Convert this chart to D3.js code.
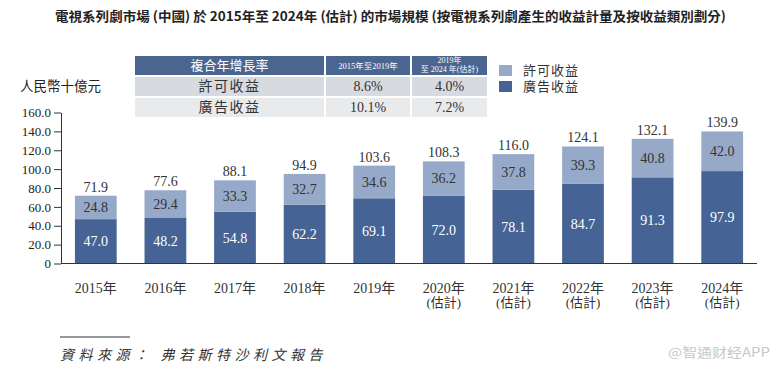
<!DOCTYPE html>
<html><head><meta charset="utf-8">
<script src="https://cdn.jsdelivr.net/npm/d3@7"></script>
<style>
body{margin:0;background:#fff;}
svg{display:block;}
</style></head>
<body><svg id="c" width="780" height="370"></svg>
<script>
const years = ["2015年","2016年","2017年","2018年","2019年","2020年","2021年","2022年","2023年","2024年"];
const estimated = [false,false,false,false,false,true,true,true,true,true];
const adRevenue = [47.0,48.2,54.8,62.2,69.1,72.0,78.1,84.7,91.3,97.9];
const licRevenue = [24.8,29.4,33.3,32.7,34.6,36.2,37.8,39.3,40.8,42.0];
const totals = [71.9,77.6,88.1,94.9,103.6,108.3,116.0,124.1,132.1,139.9];
const yTicks = [0,20,40,60,80,100,120,140,160];
const cagrHeader = ["複合年增長率","2015年至2019年","2019年|至 2024 年(估計)"];
const cagrRows = [["許可收益","8.6%","4.0%"],["廣告收益","10.1%","7.2%"]];
const legendLabels = ["許可收益","廣告收益"];
const titleText = "電視系列劇市場 (中國) 於 2015年至 2024年 (估計) 的市場規模 (按電視系列劇產生的收益計量及按收益類別劃分)";

const LIGHT="#97a9c9", DARK="#456394", HEAD="#4a6590";
const SERIF="'Liberation Serif','Noto Sans CJK TC',serif";
const SANS="'Noto Sans CJK TC','Noto Sans',sans-serif";
const svg=d3.select("#c");

// title
svg.append("text").attr("x",55).attr("y",21).attr("font-family",SANS).attr("font-weight","bold")
  .attr("font-size",13).attr("fill","#222").attr("textLength",671).attr("lengthAdjust","spacingAndGlyphs").text(titleText);

const x=d3.scaleBand().domain(years).range([61,757]).paddingInner(0.4).paddingOuter(0.2);
const y=d3.scaleLinear().domain([0,160]).range([263.5,112.5]);

// axes
const gy=svg.append("g").attr("transform","translate(61,0)").call(d3.axisLeft(y).tickValues(yTicks).tickSize(7).tickSizeOuter(0).tickFormat(d=>d===0?"0":d3.format(".1f")(d)));
gy.select(".domain").attr("stroke","#333");
gy.selectAll(".tick line").attr("stroke","#333");
gy.selectAll(".tick text").attr("font-family",SERIF).attr("font-size",13).attr("fill","#222").attr("x",-10);

svg.append("text").attr("x",20).attr("y",91).attr("font-family",SERIF).attr("font-size",13.5).attr("fill","#222").text("人民幣十億元");

// bars
const g=svg.append("g");
years.forEach((yr,i)=>{
  const bx=x(yr), bw=x.bandwidth();
  g.append("rect").attr("x",bx).attr("width",bw).attr("y",y(adRevenue[i])).attr("height",y(0)-y(adRevenue[i])).attr("fill",DARK);
  const top=adRevenue[i]+licRevenue[i];
  g.append("rect").attr("x",bx).attr("width",bw).attr("y",y(top)).attr("height",y(adRevenue[i])-y(top)).attr("fill",LIGHT);
  g.append("text").attr("x",bx+bw/2).attr("y",(y(0)+y(adRevenue[i]))/2+5).attr("text-anchor","middle")
    .attr("font-family",SERIF).attr("font-size",14).attr("fill","#fff").text(adRevenue[i].toFixed(1));
  g.append("text").attr("x",bx+bw/2).attr("y",(y(adRevenue[i])+y(top))/2+5).attr("text-anchor","middle")
    .attr("font-family",SERIF).attr("font-size",14).attr("fill","#333").text(licRevenue[i].toFixed(1));
  g.append("text").attr("x",bx+bw/2).attr("y",y(totals[i])-4).attr("text-anchor","middle")
    .attr("font-family",SERIF).attr("font-size",14).attr("fill","#333").text(totals[i].toFixed(1));
});

const gx=svg.append("g").attr("transform","translate(0,263.5)").call(d3.axisBottom(x).tickSize(0).tickFormat(""));
gx.select(".domain").attr("stroke","#333").attr("d","M61,0H757");
years.forEach((yr,i)=>{
  const cx=x(yr)+x.bandwidth()/2;
  svg.append("text").attr("x",cx).attr("y",293).attr("text-anchor","middle").attr("font-family",SERIF).attr("font-size",14).attr("fill","#333").text(yr);
  if(estimated[i]) svg.append("text").attr("x",cx).attr("y",307).attr("text-anchor","middle").attr("font-family",SERIF).attr("font-size",13).attr("fill","#333").text("(估計)");
});

// table
const cols=[[135,324],[326,410],[412,487]];
const rowsY=[[56,75],[77,96],[98,117]];
cols.forEach((c,j)=>{
  svg.append("rect").attr("x",c[0]).attr("y",rowsY[0][0]).attr("width",c[1]-c[0]).attr("height",rowsY[0][1]-rowsY[0][0]).attr("fill",HEAD);
});
svg.append("text").attr("x",(cols[0][0]+cols[0][1])/2).attr("y",70).attr("text-anchor","middle").attr("font-family",SANS).attr("font-size",13).attr("fill","#fff").text(cagrHeader[0]);
svg.append("text").attr("x",(cols[1][0]+cols[1][1])/2).attr("y",69).attr("text-anchor","middle").attr("font-family",SERIF).attr("font-size",8.5).attr("fill","#fff").text(cagrHeader[1]);
cagrHeader[2].split("|").forEach((t,k)=>{
  svg.append("text").attr("x",(cols[2][0]+cols[2][1])/2).attr("y",63+k*9).attr("text-anchor","middle").attr("font-family",SERIF).attr("font-size",8).attr("fill","#fff").text(t);
});
cagrRows.forEach((r,i)=>{
  const ry=rowsY[i+1];
  cols.forEach((c,j)=>{
    svg.append("rect").attr("x",c[0]).attr("y",ry[0]).attr("width",c[1]-c[0]).attr("height",ry[1]-ry[0]).attr("fill",i===0?"#d7dadf":"#e9eaec");
    svg.append("text").attr("x",(c[0]+c[1])/2).attr("y",ry[1]-5).attr("text-anchor","middle").attr("font-family",SERIF).attr("font-size",14).attr("fill","#333").attr("letter-spacing",j===0?1.5:0).text(r[j]);
  });
});

// legend
[LIGHT,DARK].forEach((col,i)=>{
  svg.append("rect").attr("x",499).attr("y",65+i*16).attr("width",13).attr("height",11).attr("fill",col);
  svg.append("text").attr("x",523).attr("y",75+i*16).attr("font-family",SERIF).attr("font-size",13).attr("letter-spacing",1).attr("fill","#333").text(legendLabels[i]);
});

// footer
svg.append("line").attr("x1",60).attr("x2",130).attr("y1",337).attr("y2",337).attr("stroke","#333").attr("stroke-width",1.2);
svg.append("text").attr("x",60).attr("y",360).attr("font-family",SERIF).attr("font-style","italic").attr("font-size",14).attr("letter-spacing",4.5).attr("fill","#333").text("資料來源：  弗若斯特沙利文報告");
svg.append("text").attr("x",668).attr("y",357).attr("font-family",SANS).attr("font-size",13).attr("fill","#c8c8c8").attr("textLength",102).attr("lengthAdjust","spacingAndGlyphs").text("@智通财经APP");
</script></body></html>
